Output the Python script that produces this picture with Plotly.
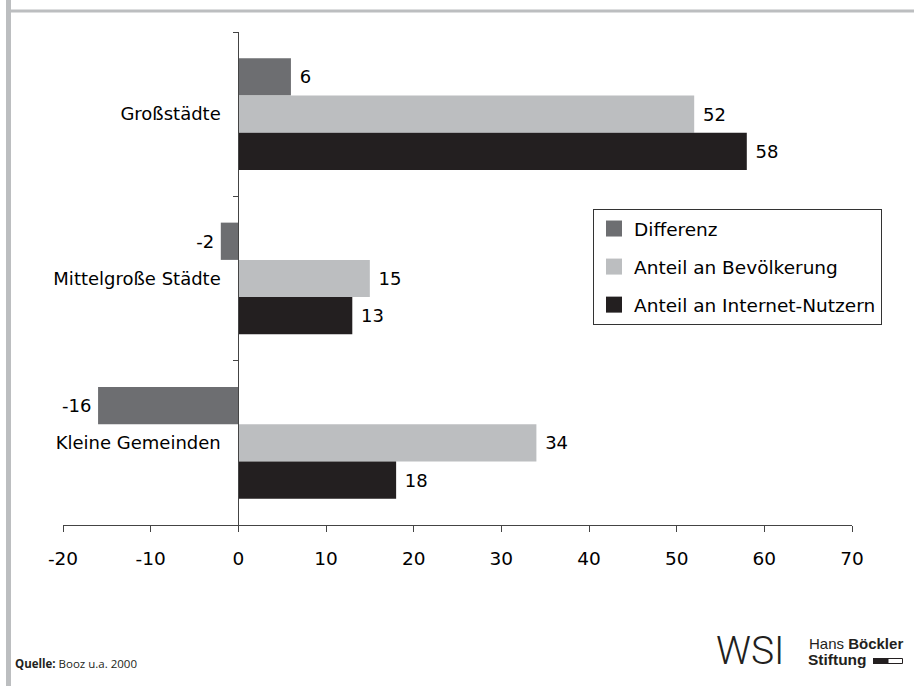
import plotly.graph_objects as go

categories = ["Großstädte", "Mittelgroße Städte", "Kleine Gemeinden"]
differenz = [6, -2, -16]
bevoelkerung = [52, 15, 34]
internet = [58, 13, 18]
series_names = ["Differenz", "Anteil an Bevölkerung", "Anteil an Internet-Nutzern"]
series_colors = ["#6d6e71", "#bcbec0", "#231f20"]
x_ticks = [-20, -10, 0, 10, 20, 30, 40, 50, 60, 70]

W, H = 914, 686
ML, MR, MT, MB = 63, 62, 32, 161
PW, PH = W - ML - MR, H - MT - MB


def px(x):
    return (x - ML) / PW


def py(y):
    return 1 - (y - MT) / PH


FONT = "DejaVu Sans"
NB = "\u00a0"
THIN = "\u2009"


def bar_label(v):
    return (NB + str(v)) if v >= 0 else (str(v) + THIN)


fig = go.Figure()
for name, vals, col in zip(series_names, [differenz, bevoelkerung, internet], series_colors):
    fig.add_trace(go.Bar(
        x=vals, y=categories, orientation="h", name=name,
        marker=dict(color=col, line=dict(width=0)),
        text=[bar_label(v) for v in vals], textposition="outside",
        textfont=dict(size=18, color="#000000", family=FONT),
        cliponaxis=False, constraintext="none", showlegend=False,
        hoverinfo="skip",
    ))
for i, (name, col) in enumerate(zip(series_names, series_colors)):
    fig.add_trace(go.Scatter(
        x=[None], y=[None], mode="markers", name=name,
        marker=dict(symbol="square", size=16, color=col),
        legendgroup=f"g{i}", showlegend=True, hoverinfo="skip",
    ))

fig.update_layout(
    width=W, height=H, autosize=False,
    margin=dict(l=ML, r=MR, t=MT, b=MB),
    paper_bgcolor="white", plot_bgcolor="white",
    barmode="group", bargap=0.32, bargroupgap=0,
    font=dict(family=FONT, size=18, color="#000000"),
    legend=dict(
        x=px(593), y=py(209), xanchor="left", yanchor="top",
        bordercolor="#333333", borderwidth=1, bgcolor="white",
        font=dict(size=18.5, family=FONT, color="#000000"),
        traceorder="grouped", tracegroupgap=11,
    ),
    xaxis=dict(
        range=[-20, 70], tickvals=x_ticks, ticktext=[str(t) for t in x_ticks],
        showgrid=False, zeroline=False, showline=True, linecolor="#444444", linewidth=1,
        ticks="outside", ticklen=6, tickcolor="#444444",
        tickfont=dict(size=18.5, family=FONT, color="#000000"),
        ticklabelstandoff=11,
    ),
    yaxis=dict(
        type="category", categoryorder="array", categoryarray=categories,
        range=[2.5, -0.5], showgrid=False, zeroline=False,
        showline=True, linecolor="#444444", linewidth=1,
        anchor="free", position=(0 - (-20)) / 90,
        ticks="outside", ticklen=5, tickcolor="#444444", tickson="boundaries",
        tickfont=dict(size=18, family=FONT, color="#000000"),
        ticklabelstandoff=14,
    ),
)

shapes = [
    dict(type="rect", xref="paper", yref="paper", x0=px(6), x1=px(11), y0=py(0), y1=py(H),
         fillcolor="#bcbec0", line=dict(width=0), layer="above"),
    dict(type="rect", xref="paper", yref="paper", x0=px(11), x1=px(W), y0=py(9.5), y1=py(12.5),
         fillcolor="#bcbec0", line=dict(width=0), layer="above"),
    dict(type="rect", xref="paper", yref="paper", x0=px(873), x1=px(888), y0=py(658), y1=py(664),
         fillcolor="#231f20", line=dict(width=0)),
    dict(type="rect", xref="paper", yref="paper", x0=px(888), x1=px(902.5), y0=py(658.5), y1=py(663.5),
         fillcolor="white", line=dict(width=1, color="#231f20")),
]
fig.update_layout(shapes=shapes)

annotations = [
    dict(text="<b>Quelle:</b> Booz u.a. 2000", x=px(13), y=py(663), xref="paper", yref="paper",
         xanchor="left", yanchor="middle", showarrow=False,
         font=dict(size=11.5, family="Open Sans", color="#231f20")),
    dict(text="WSI", x=px(786), y=py(651), xref="paper", yref="paper",
         xanchor="right", yanchor="middle", showarrow=False,
         font=dict(size=39, family="Roboto", weight=300, color="#231f20")),
    dict(text="Hans <b>Böckler</b>", x=px(807), y=py(643), xref="paper", yref="paper",
         xanchor="left", yanchor="middle", showarrow=False,
         font=dict(size=15, family="Liberation Sans", color="#231f20")),
    dict(text="<b>Stiftung</b>", x=px(806), y=py(659), xref="paper", yref="paper",
         xanchor="left", yanchor="middle", showarrow=False,
         font=dict(size=15.5, family="Liberation Sans", color="#231f20")),
]
fig.update_layout(annotations=annotations)

fig.write_html("out.html", config={"displayModeBar": False},
               post_script="document.body.style.margin='0px';")
